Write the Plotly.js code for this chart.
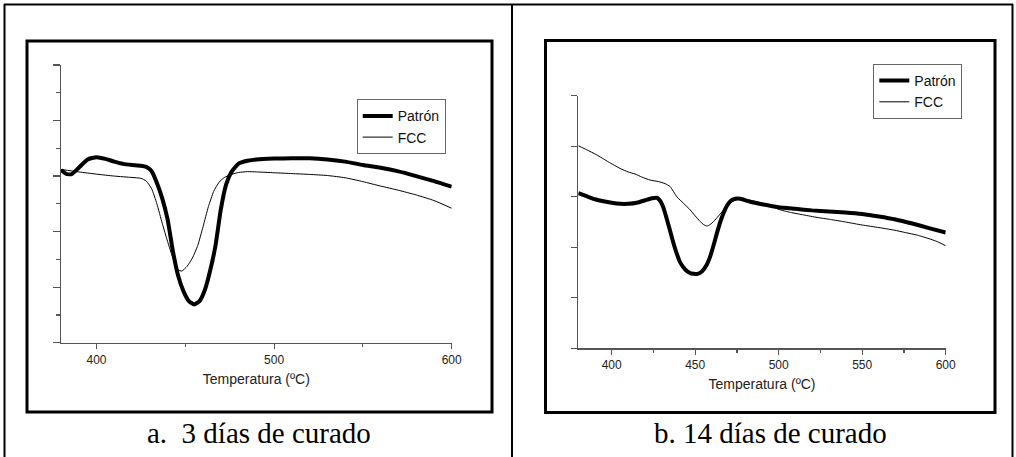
<!DOCTYPE html>
<html>
<head>
<meta charset="utf-8">
<script src="https://cdn.plot.ly/plotly-3.0.1.min.js"></script>
<style>html,body{margin:0;padding:0;background:#fff;}#chart{width:1016px;height:457px;}</style>
</head>
<body>
<div id="chart"></div>
<script>
// ---- Data ----
// Panel a: 3 días de curado
const tempA_patron = [380,383,386,390,395,400,405,410,415,420,425,428,431,434,437,440,443,446,449,452,455,458,461,464,467,470,473,476,480,485,490,500,510,520,530,540,550,560,570,580,590,600];
const valA_patron  = [6.22,6.08,6.07,6.30,6.60,6.68,6.62,6.52,6.44,6.40,6.37,6.33,6.18,5.75,5.20,4.45,3.30,2.40,1.85,1.50,1.38,1.50,1.90,2.60,3.50,4.80,5.70,6.15,6.45,6.55,6.60,6.63,6.64,6.64,6.60,6.52,6.40,6.30,6.17,6.00,5.82,5.62];
const tempA_fcc = [380,390,400,410,420,425,428,431,434,437,440,443,446,448,451,454,457,460,463,466,469,472,476,480,485,490,500,510,520,530,540,550,560,570,580,590,600];
const valA_fcc  = [6.24,6.15,6.07,6.00,5.95,5.92,5.82,5.55,5.00,4.30,3.65,3.05,2.62,2.58,2.75,3.05,3.50,4.18,4.90,5.45,5.78,5.95,6.06,6.13,6.16,6.15,6.12,6.09,6.06,6.02,5.94,5.80,5.64,5.49,5.32,5.12,4.84];

// Panel b: 14 días de curado
const tempB_patron = [380,385,390,395,400,405,410,415,420,424,427,429,431,433,435,437,439,441,444,447,451,454,457,459,461,463,465,467,469,471,474,477,483,490,500,510,520,530,540,550,560,570,580,590,600];
const valB_patron  = [3.07,3.01,2.95,2.91,2.88,2.86,2.86,2.88,2.93,2.97,2.98,2.92,2.78,2.56,2.32,2.08,1.87,1.70,1.56,1.49,1.47,1.52,1.66,1.82,2.04,2.28,2.50,2.68,2.82,2.91,2.96,2.96,2.90,2.85,2.79,2.76,2.73,2.71,2.69,2.66,2.61,2.55,2.47,2.38,2.29];
const tempB_fcc = [380,385,391,398,405,410,414,418,423,428,432,435,439,443,447,450,453,455,457,459,461,464,467,470,473,477,483,489,495,500,507,515,523,531,540,550,560,569,576,583,590,595,600];
const valB_fcc  = [4.01,3.93,3.83,3.69,3.56,3.49,3.45,3.39,3.33,3.30,3.26,3.20,3.00,2.87,2.74,2.62,2.51,2.45,2.42,2.45,2.51,2.62,2.74,2.85,2.92,2.96,2.93,2.88,2.82,2.75,2.69,2.64,2.59,2.55,2.50,2.44,2.39,2.34,2.29,2.24,2.17,2.11,2.03];

const seriesNames = ["Patrón", "FCC"];
const xTitle = "Temperatura (ºC)";
const captionA = "a.\u00A0 3 días de curado";
const captionB = "b. 14 días de curado";

// ---- Layout helpers (pixel -> paper) ----
const W = 1016, H = 457;
const px = v => v / W;
const py = v => 1 - v / H;

const thick = {color: "#000", width: 4, shape: "spline", smoothing: 0.5};
const thin  = {color: "#000", width: 1, shape: "spline", smoothing: 0.5};

const traces = [
  {x: tempA_patron, y: valA_patron, name: seriesNames[0], mode: "lines", line: thick, xaxis: "x", yaxis: "y", legend: "legend"},
  {x: tempA_fcc,    y: valA_fcc,    name: seriesNames[1], mode: "lines", line: thin,  xaxis: "x", yaxis: "y", legend: "legend"},
  {x: tempB_patron, y: valB_patron, name: seriesNames[0], mode: "lines", line: thick, xaxis: "x2", yaxis: "y2", legend: "legend2"},
  {x: tempB_fcc,    y: valB_fcc,    name: seriesNames[1], mode: "lines", line: thin,  xaxis: "x2", yaxis: "y2", legend: "legend2"}
];

const sans = "Arial, 'Liberation Sans', sans-serif";
const serif = "'Liberation Serif', 'Times New Roman', Times, 'DejaVu Serif', serif";
const axisCol = "#555";
const tickFont = {family: sans, size: 12, color: "#222"};
const titleFont = {family: sans, size: 14, color: "#222"};

const baseX = {
  showline: true, linecolor: axisCol, linewidth: 1.5, showgrid: false, zeroline: false,
  ticks: "outside", tickcolor: axisCol, tickwidth: 1.2, ticklen: 5, tickfont: tickFont,
  fixedrange: true
};
const baseY = {
  showline: true, linecolor: axisCol, linewidth: 1.5, showgrid: false, zeroline: false,
  ticks: "outside", tickcolor: axisCol, tickwidth: 1.2, showticklabels: false, fixedrange: true
};

const legendBase = {
  xanchor: "left", yanchor: "top", bgcolor: "#fff", bordercolor: "#666", borderwidth: 1,
  font: {family: sans, size: 14, color: "#111"},
  tracegroupgap: 0, itemclick: false, itemdoubleclick: false
};

const lineBlack = w => ({color: "#000", width: w});

const layout = {
  width: W, height: H,
  margin: {l: 0, r: 0, t: 0, b: 0},
  paper_bgcolor: "#fff", plot_bgcolor: "rgba(0,0,0,0)",
  showlegend: true,
  xaxis: Object.assign({}, baseX, {
    domain: [px(61), px(451.7)], range: [380, 600], tick0: 400, dtick: 100,
    minor: {ticks: "outside", ticklen: 3, tickcolor: axisCol, dtick: 50, tick0: 400},
    anchor: "y",
    title: {text: xTitle, font: titleFont, standoff: 8}
  }),
  yaxis: Object.assign({}, baseY, {
    domain: [py(342.7), py(65)], range: [0, 10], dtick: 2, ticklen: 7,
    minor: {ticks: "outside", ticklen: 3.5, tickcolor: axisCol, dtick: 1},
    anchor: "x"
  }),
  xaxis2: Object.assign({}, baseX, {
    domain: [px(578.3), px(945.7)], range: [380, 600], tick0: 400, dtick: 50,
    minor: {ticks: "outside", ticklen: 3, tickcolor: axisCol, dtick: 25, tick0: 400},
    anchor: "y2",
    title: {text: xTitle, font: titleFont, standoff: 8}
  }),
  yaxis2: Object.assign({}, baseY, {
    domain: [py(348.3), py(95.7)], range: [0, 5], dtick: 1, ticklen: 6,
    anchor: "x2"
  }),
  legend: Object.assign({}, legendBase, {x: px(356.7), y: py(99.3)}),
  legend2: Object.assign({}, legendBase, {x: px(873.3), y: py(64)}),
  shapes: [
    // outer table frame
    {type: "line", xref: "paper", yref: "paper", x0: px(4), x1: px(1013), y0: py(4.5), y1: py(4.5), line: lineBlack(2)},
    {type: "line", xref: "paper", yref: "paper", x0: px(4.5), x1: px(4.5), y0: py(4), y1: py(457), line: lineBlack(2)},
    {type: "line", xref: "paper", yref: "paper", x0: px(512), x1: px(512), y0: py(4), y1: py(457), line: lineBlack(2)},
    {type: "line", xref: "paper", yref: "paper", x0: px(1012.5), x1: px(1012.5), y0: py(4), y1: py(457), line: lineBlack(2)},
    // inner plot frames
    {type: "rect", xref: "paper", yref: "paper", x0: px(27), x1: px(492), y0: py(412), y1: py(41), line: lineBlack(3)},
    {type: "rect", xref: "paper", yref: "paper", x0: px(545.5), x1: px(995), y0: py(412.5), y1: py(40.5), line: lineBlack(3)}
  ],
  annotations: [
    {xref: "paper", yref: "paper", x: px(258.5), y: py(433), xanchor: "center", yanchor: "middle", showarrow: false,
     text: captionA, font: {family: serif, size: 29, color: "#000"}},
    {xref: "paper", yref: "paper", x: px(770.5), y: py(433), xanchor: "center", yanchor: "middle", showarrow: false,
     text: captionB, font: {family: serif, size: 29, color: "#000"}}
  ]
};

Plotly.newPlot("chart", traces, layout, {staticPlot: true, displayModeBar: false});
</script>
</body>
</html>
